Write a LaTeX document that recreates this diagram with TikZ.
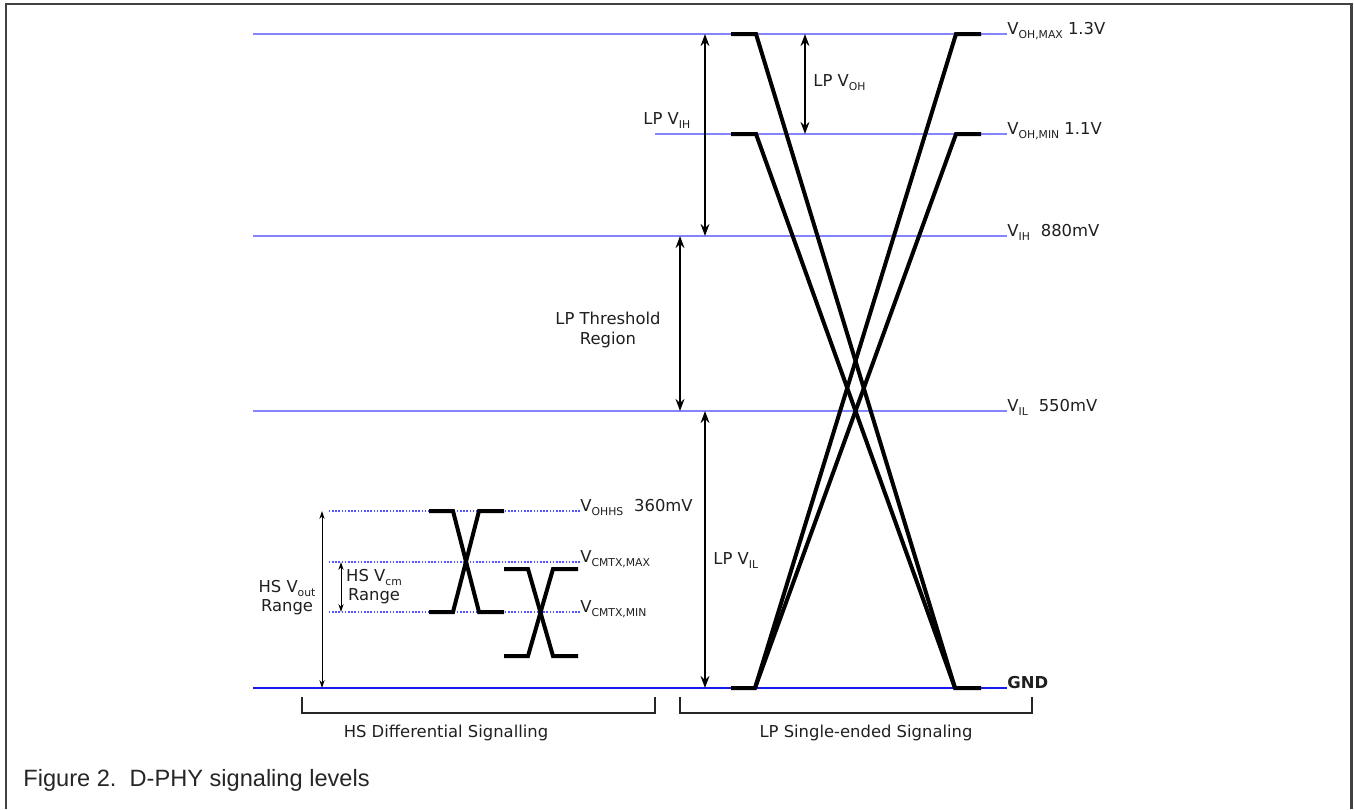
\documentclass[tikz,border=0pt]{standalone}
\usepackage{fontspec}
\setmainfont{DejaVu Sans}
\newfontfamily\capfont{Liberation Sans}
\usetikzlibrary{arrows.meta,positioning,calc}

\definecolor{lvblue}{RGB}{132,132,255}
\definecolor{gndblue}{RGB}{25,25,235}
\definecolor{hsblue}{RGB}{80,80,255}
\definecolor{framegray}{RGB}{66,66,66}

% small lowered index for the level names
\newcommand{\lvs}[1]{\raisebox{-0.45ex}{\fontsize{5.4}{6}\selectfont #1}}

\tikzset{
  level/.style={draw=lvblue, line width=1pt},
  gndlevel/.style={draw=gndblue, line width=1.1pt},
  hslevel/.style={draw=hsblue, line width=0.6pt, dash pattern=on 0.8pt off 0.8pt},
  signal/.style={line width=2pt, line join=miter},
  span/.style={<->, >={Stealth[length=6pt,width=4.4pt]}, line width=1pt},
  hsspan/.style={<->, >={Stealth[length=4pt,width=2.6pt]}, line width=0.5pt},
  lbl/.style={font=\fontsize{8.2}{9.6}\selectfont, inner sep=0pt, text=black!88},
  bracket/.style={line width=1pt, draw=black!85},
}

\begin{document}
\begin{tikzpicture}[x=0.5pt, y=-0.5pt]
        \useasboundingbox (0,0) rectangle (1354,809);
        % Frame
        \draw [framegray, line width=1.2pt] (6,809) -- (6,4) -- (1351.5,4) -- (1351.5,809);
        % Level labels
        \node [lbl, anchor=base west] (ohmax) at (1007,34) {V\lvs{OH,MAX} 1.3V};
        \node [lbl, anchor=base west] (ohmin) at (1007,134) {V\lvs{OH,MIN} 1.1V};
        \node [lbl, anchor=base west] (vih) at (1007,236) {V\lvs{IH}\enspace\,880mV};
        \node [lbl, anchor=base west] (vil) at (1007,411) {V\lvs{IL}\enspace\,550mV};
        \node [lbl, anchor=base west, font=\fontsize{8.2}{9.6}\selectfont\bfseries] (gnd) at (1007,688) {GND};
        \node [lbl, anchor=base west] (ohhs) at (580,511) {V\lvs{OHHS}\enspace\,360mV};
        \node [lbl, anchor=base west] (cmmax) at (580,562) {V\lvs{CMTX,MAX}};
        \node [lbl, anchor=base west] (cmmin) at (580,612) {V\lvs{CMTX,MIN}};
        % Level lines
        \coordinate (ohmaxL) at (253,34);
        \coordinate (ohminL) at (655,134);
        \coordinate (vihL) at (253,236);
        \coordinate (vilL) at (253,411);
        \coordinate (gndL) at (253,688);
        \draw [level] (ohmaxL) -- (ohmax.base west);
        \draw [level] (ohminL) -- (ohmin.base west);
        \draw [level] (vihL) -- (vih.base west);
        \draw [level] (vilL) -- (vil.base west);
        \draw [gndlevel] (gndL) -- (gnd.base west);
        \foreach \n in {ohhs,cmmax,cmmin}
        {
        \draw [hslevel] (\n.base west) -- (\n.base west -| 328,0);
        }
        % LP single-ended signals
        \draw [signal] (731,34) -- (756,34) -- (955,688) -- (981,688);
        \draw [signal] (731,134) -- (756,134) -- (955,688);
        \draw [signal] (731,688) -- (755,688) -- (956,34) -- (981,34);
        \draw [signal] (755,688) -- (956,134) -- (981,134);
        % HS differential signals
        \draw [signal] (429,511) -- (453,511) -- (479,612) -- (504,612);
        \draw [signal] (429,612) -- (453,612) -- (479,511) -- (504,511);
        \draw [signal] (504,569) -- (528,569) -- (553,656) -- (578,656);
        \draw [signal] (504,656) -- (528,656) -- (553,569) -- (578,569);
        % Ranges
        \coordinate (lpvihT) at (705,34);
        \coordinate (lpvihB) at (705,236);
        \coordinate (lpvohT) at (805,34);
        \coordinate (lpvohB) at (805,134);
        \coordinate (thrT) at (680,236);
        \coordinate (thrB) at (680,411);
        \coordinate (lpvilT) at (705,411);
        \coordinate (lpvilB) at (705,688);
        \coordinate (voutT) at (322,511);
        \coordinate (voutB) at (322,688);
        \coordinate (vcmT) at (341,562);
        \coordinate (vcmB) at (341,612);
        \draw [span] (lpvihT) -- (lpvihB);
        \draw [span] (lpvohT) -- (lpvohB);
        \draw [span] (thrT) -- (thrB);
        \draw [span] (lpvilT) -- (lpvilB);
        \draw [hsspan] (voutT) -- (voutB);
        \draw [hsspan] (vcmT) -- (vcmB);
        % Range labels
        \node [lbl, anchor=base west] (lpvih) at (643,124) {LP V\lvs{IH}};
        \node [lbl, anchor=base west] (lpvoh) at (813,86) {LP V\lvs{OH}};
        \node [lbl, anchor=base west] (lpvil) at (713,564) {LP V\lvs{IL}};
        \node [lbl, align=center] (thr) at (608,330) {LP Threshold\\Region};
        \node [lbl, align=center] (vout) at (287,598) {HS V\lvs{out}\\Range};
        \node [lbl, align=center] (vcm) at (374,587) {HS V\lvs{cm}\\Range};
        % Brackets
        \draw [bracket] (302,697) |- (655,713) -- (655,697);
        \draw [bracket] (680,697) |- (1032,713) -- (1032,697);
        \node [lbl, anchor=base] (hsdiff) at (446,737) {HS Differential Signalling};
        \node [lbl, anchor=base] (lpse) at (866,737) {LP Single-ended Signaling};
        % Caption
        \node [anchor=base west, inner sep=0pt, text=black!85,
               font=\capfont\fontsize{11.8}{13}\selectfont] (cap) at (23,786)
              {Figure 2.\ \ D-PHY signaling levels};
\end{tikzpicture}
\end{document}
